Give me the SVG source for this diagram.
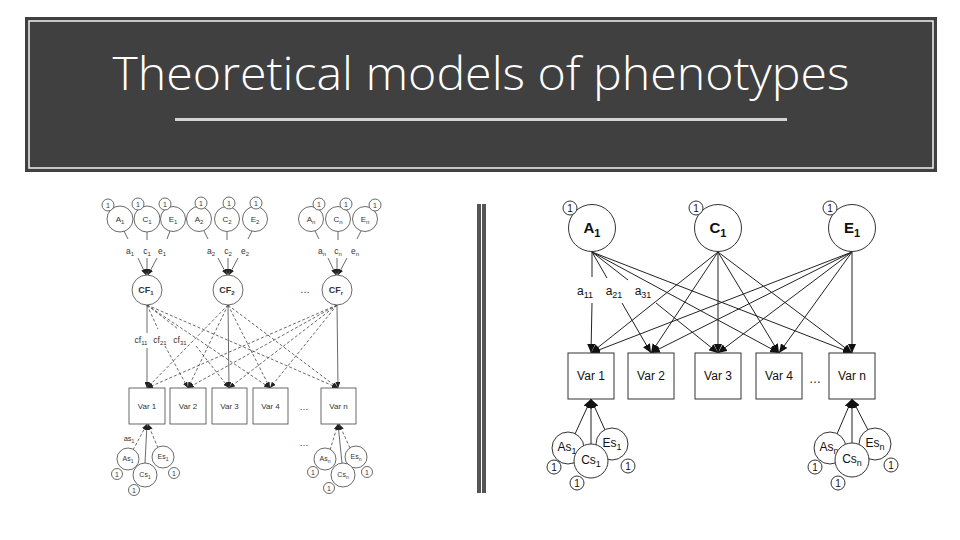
<svg xmlns="http://www.w3.org/2000/svg" width="960" height="540" viewBox="0 0 960 540">
<defs>
<marker id="ar" markerUnits="userSpaceOnUse" markerWidth="9" markerHeight="8" refX="9" refY="4" orient="auto"><path d="M0,0 L9,4 L0,8 Z" fill="#111"/></marker>
<marker id="al" markerUnits="userSpaceOnUse" markerWidth="6" markerHeight="5" refX="6" refY="2.5" orient="auto"><path d="M0,0 L6,2.5 L0,5 Z" fill="#222"/></marker>
</defs>
<style>
.R line{stroke:#222;stroke-width:1;fill:none}
.Rc{fill:#fff;stroke:#333;stroke-width:1}
.Rb{fill:#fff;stroke:#333;stroke-width:1}
.Rt{font-family:"Liberation Sans",Arial,sans-serif;fill:#111;text-anchor:middle}
.L line{stroke:#444;stroke-width:0.8;fill:none}
.L .d{stroke-dasharray:3 2}
.Lc{fill:#fff;stroke:#444;stroke-width:0.8}
.Lt{font-family:"Liberation Sans",Arial,sans-serif;fill:#333;text-anchor:middle}
</style>
<rect width="960" height="540" fill="#fff"/>
<g id="header">
<rect x="25" y="17" width="912" height="155" fill="#404040"/>
<rect x="29" y="21" width="904" height="147" fill="none" stroke="#f2f2f2" stroke-width="1.5"/>
<text x="481" y="90" font-family="'Open Sans','Noto Sans',sans-serif" font-weight="300" font-size="46" fill="#fff" text-anchor="middle" textLength="737" lengthAdjust="spacingAndGlyphs">Theoretical models of phenotypes</text>
<rect x="175" y="118" width="612" height="3" fill="#d4d4d4"/>
</g>
<g id="separator">
<rect x="477" y="204" width="4" height="289" fill="#555"/>
<rect x="482" y="204" width="4" height="289" fill="#555"/>
</g>

<!-- RIGHT DIAGRAM -->
<g id="right-connectors" class="R">
<line x1="592" y1="252" x2="592" y2="277"/><line x1="592" y1="303" x2="591" y2="353" marker-end="url(#ar)"/>
<line x1="592" y1="252" x2="607" y2="278"/><line x1="622" y1="303" x2="651" y2="353" marker-end="url(#ar)"/>
<line x1="592" y1="252" x2="628" y2="280"/><line x1="656" y1="303" x2="718" y2="353" marker-end="url(#ar)"/>
<line x1="592" y1="252" x2="779" y2="353" marker-end="url(#ar)"/>
<line x1="592" y1="252" x2="852" y2="353" marker-end="url(#ar)"/>
<line x1="718" y1="252" x2="591" y2="353" marker-end="url(#ar)"/>
<line x1="718" y1="252" x2="651" y2="353" marker-end="url(#ar)"/>
<line x1="718" y1="252" x2="718" y2="353" marker-end="url(#ar)"/>
<line x1="718" y1="252" x2="779" y2="353" marker-end="url(#ar)"/>
<line x1="718" y1="252" x2="852" y2="353" marker-end="url(#ar)"/>
<line x1="852" y1="252" x2="591" y2="353" marker-end="url(#ar)"/>
<line x1="852" y1="252" x2="651" y2="353" marker-end="url(#ar)"/>
<line x1="852" y1="252" x2="718" y2="353" marker-end="url(#ar)"/>
<line x1="852" y1="252" x2="779" y2="353" marker-end="url(#ar)"/>
<line x1="852" y1="252" x2="852" y2="353" marker-end="url(#ar)"/>
<line x1="575" y1="434" x2="591" y2="399" marker-end="url(#ar)"/>
<line x1="591" y1="444" x2="591" y2="399" marker-end="url(#ar)"/>
<line x1="605" y1="430" x2="591" y2="399" marker-end="url(#ar)"/>
<line x1="837" y1="434" x2="852" y2="399" marker-end="url(#ar)"/>
<line x1="852" y1="443" x2="852" y2="399" marker-end="url(#ar)"/>
<line x1="868" y1="430" x2="852" y2="399" marker-end="url(#ar)"/>
</g>
<g id="right-labels">
<text class="Rt" x="585" y="295" font-size="12">a<tspan font-size="9" dy="3">11</tspan></text>
<text class="Rt" x="614" y="295" font-size="12">a<tspan font-size="9" dy="3">21</tspan></text>
<text class="Rt" x="643" y="295" font-size="12">a<tspan font-size="9" dy="3">31</tspan></text>
<text class="Rt" x="815" y="383" font-size="12">…</text>
</g>
<g id="r-A1"><circle class="Rc" cx="592" cy="228" r="23.5"/><circle class="Rc" cx="570" cy="208" r="7"/><text class="Rt" x="570" y="212" font-size="10">1</text><text class="Rt" x="592" y="233" font-size="15" font-weight="bold">A<tspan font-size="11" dy="4">1</tspan></text></g>
<g id="r-C1"><circle class="Rc" cx="718" cy="228" r="23.5"/><circle class="Rc" cx="696" cy="208" r="7"/><text class="Rt" x="696" y="212" font-size="10">1</text><text class="Rt" x="718" y="233" font-size="15" font-weight="bold">C<tspan font-size="11" dy="4">1</tspan></text></g>
<g id="r-E1"><circle class="Rc" cx="852" cy="228" r="23.5"/><circle class="Rc" cx="830" cy="208" r="7"/><text class="Rt" x="830" y="212" font-size="10">1</text><text class="Rt" x="852" y="233" font-size="15" font-weight="bold">E<tspan font-size="11" dy="4">1</tspan></text></g>
<g id="r-var1"><rect class="Rb" x="568" y="353" width="46" height="46"/><text class="Rt" x="591" y="380" font-size="12">Var 1</text></g>
<g id="r-var2"><rect class="Rb" x="628" y="353" width="46" height="46"/><text class="Rt" x="651" y="380" font-size="12">Var 2</text></g>
<g id="r-var3"><rect class="Rb" x="695" y="353" width="46" height="46"/><text class="Rt" x="718" y="380" font-size="12">Var 3</text></g>
<g id="r-var4"><rect class="Rb" x="756" y="353" width="46" height="46"/><text class="Rt" x="779" y="380" font-size="12">Var 4</text></g>
<g id="r-varn"><rect class="Rb" x="829" y="353" width="46" height="46"/><text class="Rt" x="852" y="380" font-size="12">Var n</text></g>
<g id="r-As1"><circle class="Rc" cx="554" cy="467" r="7"/><text class="Rt" x="554" y="471" font-size="10">1</text><circle class="Rc" cx="568" cy="448" r="16"/><text class="Rt" x="567" y="451" font-size="12">As<tspan font-size="9" dy="3">1</tspan></text></g>
<g id="r-Es1"><circle class="Rc" cx="628" cy="466" r="7"/><text class="Rt" x="628" y="470" font-size="10">1</text><circle class="Rc" cx="612" cy="444" r="16"/><text class="Rt" x="612" y="447" font-size="12">Es<tspan font-size="9" dy="3">1</tspan></text></g>
<g id="r-Cs1"><circle class="Rc" cx="577" cy="483" r="7"/><text class="Rt" x="577" y="487" font-size="10">1</text><circle class="Rc" cx="591" cy="461" r="17"/><text class="Rt" x="591" y="464" font-size="12">Cs<tspan font-size="9" dy="3">1</tspan></text></g>
<g id="r-Asn"><circle class="Rc" cx="815" cy="467" r="7"/><text class="Rt" x="815" y="471" font-size="10">1</text><circle class="Rc" cx="830" cy="448" r="16"/><text class="Rt" x="829" y="451" font-size="12">As<tspan font-size="9" dy="3">n</tspan></text></g>
<g id="r-Esn"><circle class="Rc" cx="891" cy="465" r="7"/><text class="Rt" x="891" y="469" font-size="10">1</text><circle class="Rc" cx="875" cy="444" r="16"/><text class="Rt" x="875" y="447" font-size="12">Es<tspan font-size="9" dy="3">n</tspan></text></g>
<g id="r-Csn"><circle class="Rc" cx="838" cy="483" r="7"/><text class="Rt" x="838" y="487" font-size="10">1</text><circle class="Rc" cx="852" cy="460" r="17"/><text class="Rt" x="852" y="463" font-size="12">Cs<tspan font-size="9" dy="3">n</tspan></text></g>

<!-- LEFT DIAGRAM -->
<g id="left-connectors" class="L">
<line x1="124" y1="231" x2="128" y2="239"/><line x1="138" y1="258" x2="146" y2="275" marker-end="url(#al)"/>
<line x1="147" y1="232" x2="147" y2="240"/><line x1="147" y1="258" x2="147" y2="275" marker-end="url(#al)"/>
<line x1="170" y1="231" x2="167" y2="239"/><line x1="157" y1="258" x2="148" y2="275" marker-end="url(#al)"/>
<line x1="204" y1="231" x2="208" y2="239"/><line x1="218" y1="258" x2="227" y2="275" marker-end="url(#al)"/>
<line x1="227" y1="232" x2="227" y2="240"/><line x1="228" y1="258" x2="228" y2="275" marker-end="url(#al)"/>
<line x1="252" y1="231" x2="248" y2="239"/><line x1="238" y1="258" x2="229" y2="275" marker-end="url(#al)"/>
<line x1="315" y1="231" x2="319" y2="239"/><line x1="328" y1="258" x2="336" y2="275" marker-end="url(#al)"/>
<line x1="338" y1="232" x2="338" y2="240"/><line x1="337" y1="258" x2="337" y2="275" marker-end="url(#al)"/>
<line x1="361" y1="231" x2="357" y2="239"/><line x1="347" y1="258" x2="338" y2="275" marker-end="url(#al)"/>
<line x1="147" y1="305" x2="147" y2="333"/><line x1="147" y1="348" x2="147" y2="388" marker-end="url(#al)"/>
<line class="d" x1="147" y1="305" x2="158" y2="329"/><line class="d" x1="165" y1="346" x2="188" y2="388" marker-end="url(#al)"/>
<line class="d" x1="147" y1="305" x2="178" y2="329"/><line class="d" x1="196" y1="346" x2="229" y2="388" marker-end="url(#al)"/>
<line class="d" x1="147" y1="305" x2="270" y2="388" marker-end="url(#al)"/>
<line class="d" x1="147" y1="305" x2="338" y2="388" marker-end="url(#al)"/>
<line class="d" x1="228" y1="305" x2="147" y2="388" marker-end="url(#al)"/>
<line class="d" x1="228" y1="305" x2="188" y2="388" marker-end="url(#al)"/>
<line x1="228" y1="305" x2="229" y2="388" marker-end="url(#al)"/>
<line class="d" x1="228" y1="305" x2="270" y2="388" marker-end="url(#al)"/>
<line class="d" x1="228" y1="305" x2="338" y2="388" marker-end="url(#al)"/>
<line class="d" x1="337" y1="305" x2="147" y2="388" marker-end="url(#al)"/>
<line class="d" x1="337" y1="305" x2="188" y2="388" marker-end="url(#al)"/>
<line class="d" x1="337" y1="305" x2="229" y2="388" marker-end="url(#al)"/>
<line class="d" x1="337" y1="305" x2="270" y2="388" marker-end="url(#al)"/>
<line x1="337" y1="305" x2="338" y2="388" marker-end="url(#al)"/>
<line class="d" x1="133" y1="450" x2="147" y2="424" marker-end="url(#al)"/>
<line x1="145" y1="463" x2="147" y2="424" marker-end="url(#al)"/>
<line class="d" x1="158" y1="448" x2="148" y2="424" marker-end="url(#al)"/>
<line class="d" x1="330" y1="450" x2="338" y2="424" marker-end="url(#al)"/>
<line x1="342" y1="463" x2="338" y2="424" marker-end="url(#al)"/>
<line class="d" x1="350" y1="448" x2="339" y2="424" marker-end="url(#al)"/>
</g>
<g id="left-labels">
<text class="Lt" x="130" y="254" font-size="8.5">a<tspan font-size="6" dy="2">1</tspan></text>
<text class="Lt" x="147" y="254" font-size="8.5">c<tspan font-size="6" dy="2">1</tspan></text>
<text class="Lt" x="162" y="254" font-size="8.5">e<tspan font-size="6" dy="2">1</tspan></text>
<text class="Lt" x="211" y="254" font-size="8.5">a<tspan font-size="6" dy="2">2</tspan></text>
<text class="Lt" x="228" y="254" font-size="8.5">c<tspan font-size="6" dy="2">2</tspan></text>
<text class="Lt" x="245" y="254" font-size="8.5">e<tspan font-size="6" dy="2">2</tspan></text>
<text class="Lt" x="322" y="254" font-size="8.5">a<tspan font-size="6" dy="2">n</tspan></text>
<text class="Lt" x="338" y="254" font-size="8.5">c<tspan font-size="6" dy="2">n</tspan></text>
<text class="Lt" x="355" y="254" font-size="8.5">e<tspan font-size="6" dy="2">n</tspan></text>
<text class="Lt" x="141" y="343" font-size="8.5">cf<tspan font-size="6" dy="2">11</tspan></text>
<text class="Lt" x="160" y="343" font-size="8.5">cf<tspan font-size="6" dy="2">21</tspan></text>
<text class="Lt" x="180" y="343" font-size="8.5">cf<tspan font-size="6" dy="2">31</tspan></text>
<text class="Lt" x="129" y="441" font-size="7.5">as<tspan font-size="5" dy="2">1</tspan></text>
<text class="Lt" x="305" y="293" font-size="10">…</text>
<text class="Lt" x="304" y="410" font-size="9">…</text>
<text class="Lt" x="304" y="446" font-size="9">…</text>
</g>
<g id="l-A1"><circle class="Lc" cx="120" cy="219" r="13"/><circle class="Lc" cx="108" cy="205" r="6"/><text class="Lt" x="108" y="208" font-size="7">1</text><text class="Lt" x="120" y="222" font-size="8">A<tspan font-size="6" dy="2">1</tspan></text></g>
<g id="l-C1"><circle class="Lc" cx="147" cy="219" r="13"/><circle class="Lc" cx="138" cy="204" r="6"/><text class="Lt" x="138" y="207" font-size="7">1</text><text class="Lt" x="147" y="222" font-size="8">C<tspan font-size="6" dy="2">1</tspan></text></g>
<g id="l-E1"><circle class="Lc" cx="173" cy="219" r="12.5"/><circle class="Lc" cx="165" cy="204" r="6"/><text class="Lt" x="165" y="207" font-size="7">1</text><text class="Lt" x="173" y="222" font-size="8">E<tspan font-size="6" dy="2">1</tspan></text></g>
<g id="l-A2"><circle class="Lc" cx="199" cy="219" r="12.5"/><circle class="Lc" cx="201" cy="203" r="6"/><text class="Lt" x="201" y="206" font-size="7">1</text><text class="Lt" x="199" y="222" font-size="8">A<tspan font-size="6" dy="2">2</tspan></text></g>
<g id="l-C2"><circle class="Lc" cx="227" cy="219" r="12.5"/><circle class="Lc" cx="229" cy="203" r="6"/><text class="Lt" x="229" y="206" font-size="7">1</text><text class="Lt" x="227" y="222" font-size="8">C<tspan font-size="6" dy="2">2</tspan></text></g>
<g id="l-E2"><circle class="Lc" cx="255" cy="219" r="12.5"/><circle class="Lc" cx="256" cy="203" r="6"/><text class="Lt" x="256" y="206" font-size="7">1</text><text class="Lt" x="255" y="222" font-size="8">E<tspan font-size="6" dy="2">2</tspan></text></g>
<g id="l-An"><circle class="Lc" cx="311" cy="219" r="12.5"/><circle class="Lc" cx="319" cy="204" r="6"/><text class="Lt" x="319" y="207" font-size="7">1</text><text class="Lt" x="311" y="222" font-size="8">A<tspan font-size="6" dy="2">n</tspan></text></g>
<g id="l-Cn"><circle class="Lc" cx="338" cy="219" r="12.5"/><circle class="Lc" cx="346" cy="204" r="6"/><text class="Lt" x="346" y="207" font-size="7">1</text><text class="Lt" x="338" y="222" font-size="8">C<tspan font-size="6" dy="2">n</tspan></text></g>
<g id="l-En"><circle class="Lc" cx="365" cy="219" r="12.5"/><circle class="Lc" cx="375" cy="205" r="6"/><text class="Lt" x="375" y="208" font-size="7">1</text><text class="Lt" x="365" y="222" font-size="8">E<tspan font-size="6" dy="2">n</tspan></text></g>
<g id="l-CF1"><circle class="Lc" cx="147" cy="290" r="15"/><text class="Lt" x="146" y="293" font-size="9" font-weight="bold">CF<tspan font-size="6" dy="2">1</tspan></text></g>
<g id="l-CF2"><circle class="Lc" cx="228" cy="290" r="15"/><text class="Lt" x="227" y="293" font-size="9" font-weight="bold">CF<tspan font-size="6" dy="2">2</tspan></text></g>
<g id="l-CFr"><circle class="Lc" cx="337" cy="290" r="15"/><text class="Lt" x="336" y="293" font-size="9" font-weight="bold">CF<tspan font-size="6" dy="2">r</tspan></text></g>
<g id="l-var1"><rect class="Lc" x="129" y="388" width="36" height="36"/><text class="Lt" x="147" y="409" font-size="8">Var 1</text></g>
<g id="l-var2"><rect class="Lc" x="170" y="388" width="36" height="36"/><text class="Lt" x="188" y="409" font-size="8">Var 2</text></g>
<g id="l-var3"><rect class="Lc" x="212" y="388" width="35" height="36"/><text class="Lt" x="229.5" y="409" font-size="8">Var 3</text></g>
<g id="l-var4"><rect class="Lc" x="253" y="388" width="35" height="36"/><text class="Lt" x="270.5" y="409" font-size="8">Var 4</text></g>
<g id="l-varn"><rect class="Lc" x="321" y="388" width="35" height="36"/><text class="Lt" x="338.5" y="409" font-size="8">Var n</text></g>
<g id="l-As1"><circle class="Lc" cx="117" cy="474" r="5.5"/><text class="Lt" x="117" y="477" font-size="7">1</text><circle class="Lc" cx="128" cy="459" r="11"/><text class="Lt" x="128" y="461" font-size="7">As<tspan font-size="5" dy="2">1</tspan></text></g>
<g id="l-Es1"><circle class="Lc" cx="174" cy="473" r="5.5"/><text class="Lt" x="174" y="476" font-size="7">1</text><circle class="Lc" cx="163" cy="457" r="11"/><text class="Lt" x="163" y="459" font-size="7">Es<tspan font-size="5" dy="2">1</tspan></text></g>
<g id="l-Cs1"><circle class="Lc" cx="134" cy="490" r="5.5"/><text class="Lt" x="134" y="493" font-size="7">1</text><circle class="Lc" cx="145" cy="475" r="12"/><text class="Lt" x="145" y="477" font-size="7">Cs<tspan font-size="5" dy="2">1</tspan></text></g>
<g id="l-Asn"><circle class="Lc" cx="313" cy="472" r="5.5"/><text class="Lt" x="313" y="475" font-size="7">1</text><circle class="Lc" cx="325" cy="459" r="11"/><text class="Lt" x="325" y="461" font-size="7">As<tspan font-size="5" dy="2">n</tspan></text></g>
<g id="l-Esn"><circle class="Lc" cx="367" cy="472" r="5.5"/><text class="Lt" x="367" y="475" font-size="7">1</text><circle class="Lc" cx="356" cy="457" r="11"/><text class="Lt" x="356" y="459" font-size="7">Es<tspan font-size="5" dy="2">n</tspan></text></g>
<g id="l-Csn"><circle class="Lc" cx="329" cy="488" r="5.5"/><text class="Lt" x="329" y="491" font-size="7">1</text><circle class="Lc" cx="343" cy="475" r="12"/><text class="Lt" x="343" y="477" font-size="7">Cs<tspan font-size="5" dy="2">n</tspan></text></g>
</svg>
